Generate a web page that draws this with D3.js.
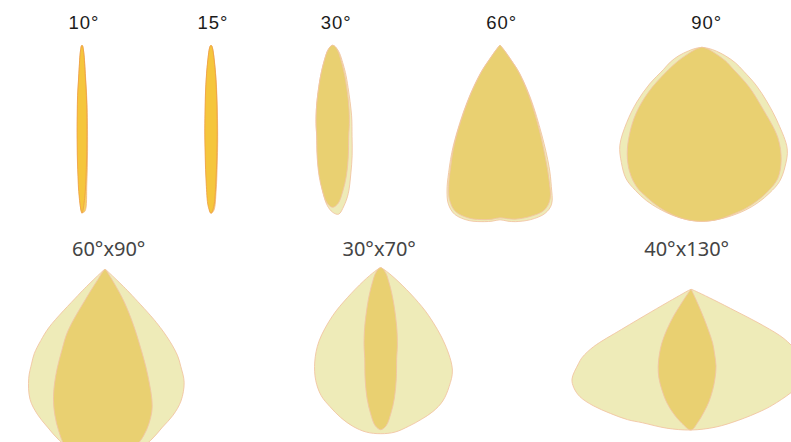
<!DOCTYPE html>
<html>
<head>
<meta charset="utf-8">
<script src="https://cdn.jsdelivr.net/npm/d3@7/dist/d3.min.js"></script>
<style>
html,body{margin:0;padding:0;background:#fff;}
svg{display:block;}
</style>
</head>
<body>
<svg id="chart" width="791" height="442"></svg>
<script>
// ---------------- DATA (relative intensity; angle in degrees from nadir) ----------------
const titles = ["10°", "15°", "30°", "60°", "90°", "60°x90°", "30°x70°", "40°x130°"];

// narrow beams
const angNarrow = [-90,-45,-30,-20,-15,-10,-8,-6,-5,-4,-3,-2,-1,0,1,2,3,4,5,6,8,10,15,20,30,45,90];
const beam10A = [0,0.7,1.7,3.4,5.9,12.6,18.5,31.9,50.4,68.9,94,124,153,168,153,124,94,68.9,50.4,31.9,18.5,12.6,5.9,3.4,1.7,0.7,0];
const beam10B = [0,0.7,1.7,3.4,5.9,12,17,29,46,63,87,116,146,167,166,138,106,78,57,37,21,14,6.5,3.8,1.9,0.8,0];
const beam15A = [0,1.2,2.7,5.9,10,22.7,35,55,69,89,111,138,161,168,161,138,111,89,69,55,35,22.7,10,5.9,2.7,1.2,0];
const beam15B = [0,1.2,2.7,5.6,9.5,21,33,51,64,83,104,131,155,168,165,146,119,96,75,59,38,24.5,10.8,6.2,2.9,1.3,0];

// 30°
const ang30 = [-90,-75,-60,-50,-40,-30,-25,-20,-15,-12,-10,-8,-6,-4,-2,0,2,4,6,8,10,12,15,20,25,30,40,50,60,75,90];
const beam30Dark  = [0,1,3,5,9,16,24,38,62,80,92,112,131,146,158,162,158,146,131,112,92,80,62,38,24,16,9,5,3,1,0];
const beam30Light = [0,1,3,5,9,16,24,38,62,80,92,110,128,146,160,167,169,161,149,130,112,93,73,45,30,20,11,6,3,1,0];

// 60°
const ang60 = [-90,-60,-45,-40,-37,-35,-30,-25,-22,-20,-18,-15,-10,-5,-2.5,0,2.5,5,10,15,18,20,22,25,30,35,37,40,45,60,90];
const beam60Dark  = [0,0.5,2,6,15,32,64,107,132,150,163,172,175.6,175,174,172.5,173.5,174.5,173.8,170.7,162,143.5,121,92.5,57.7,32,17,7,2,0.5,0];
const beam60Light = [0,0.5,2,7,17,34,66,110,137,155,167,175,178,177,176,174.5,176,177,177,174,167,150,131,99,61,34,19,8,2,0.5,0];

// 90°
const ang90 = [-90,-80,-75,-70,-65,-60,-55,-50,-45,-40,-35,-30,-25,-20,-15,-10,-5,0,5,10,15,20,25,30,35,40,45,50,55,60,65,70,75,80,90];
const beam90Dark  = [0,2,5,8,15,28,45,70,93,112.5,130.4,144.4,154.2,160,165.5,170,173,174,173,170,167,162.9,158,151.5,138,118,84.5,61,38,27,15,9,5,2.5,0];
const beam90Light = [0,7,14,25,35,44.6,64,85,106.5,127.8,140.6,151.8,157.8,163,167,170.5,173,174,173,171,168.5,165,160.5,155,145,132.6,108,85,66,48.4,37,25,15,7,0];

// 60°x90°
const ang6090Wide = [-90,-60,-50,-47,-46,-44,-42,-40,-38,-35,-30,-25,-20,-15,-10,-5,0,5,10,15,20,25,30,35,38,40,42,44,46,47,50,60,90];
const beam6090Wide = [0,1,6,25,38,80,96,110,119,133,150,160,168,177,184,188,190,188,184,177,168,161,152,138,123,113,97,74,38,25,6,1,0];
const ang6090Narrow = [-90,-50,-40,-35,-33,-31,-28,-25,-22,-19,-16,-13,-10,-5,0,5,10,13,16,19,22,25,28,31,33,35,40,50,90];
const beam6090Narrow = [0,1,4,12,35,72,92,116,137.5,154,168,180,184,188,190,187,179,171,160,145,114,80,55,34,18,9,3,1,0];

// 30°x70°
const ang3070Wide = [-90,-70,-58,-52,-48,-45,-40,-35,-30,-25,-20,-15,-10,-5,0,5,10,15,20,25,30,35,40,45,48,52,58,70,90];
const beam3070Wide = [0,1,7,22,45,68,96,115,130,141,148,155,161,165,166,165,161,157,153,147,137,125,100,68,46,22,7,1,0];
const ang3070Narrow = ang30;
const beam3070Narrow = [0,1,3,5,9,16,24,38,62,80,92,112,131,146,158,162,158,146,131,112,92,80,62,38,24,16,9,5,3,1,0];

// 40°x130°
const ang40130Wide = [-90,-65,-62,-61,-60.5,-60,-59.5,-58,-56.5,-53,-50,-46,-40,-33,-26,-20,-10,0,10,20,30,35,44,50,55,58,60,61.5,62.5,63.5,64,65,67,75,90];
const beam40130Wide = [0,3,10,25,45,80,113,128,135,149,153,154.5,152,148,145,142,141,140.7,140,139.3,140.5,141.6,143.8,145,140,130,120,110,100,75,50,25,8,1,0];
const ang40130Narrow = [-90,-45,-37,-35,-34,-33,-31,-28.5,-26,-23,-20,-16,-12,-8,-4,0,3,6,9,12,15,18,20,22,23,24,25,26,28,35,90];
const beam40130Narrow = [0,0.5,3,10,20,32,46,61,72,84,94,105,116,125.5,134,140.7,133,123.5,114,103.5,92.5,81,69,57.5,45,32,18,8,2,0.5,0];

// ---------------- LAYOUT ----------------
const layout = [
  {tip:[82,45.3],   label:[84,29],     font:"top"},
  {tip:[211,45.3],  label:[213,29],    font:"top"},
  {tip:[332.7,45.3],label:[336.3,29],  font:"top"},
  {tip:[500,45.3],  label:[501.7,28.5],font:"top"},
  {tip:[702,47.3],  label:[706.7,29],  font:"top"},
  {tip:[105,269.3], label:[108.7,255.7],font:"bottom"},
  {tip:[380.7,267.7],label:[379.2,255.7],font:"bottom"},
  {tip:[691,289.3], label:[686.7,255.7],font:"bottom"}
];

const styles = {
  narrowB: {fill:"#f4d35c", stroke:"#f3b27a", sw:0.8},
  narrowA: {fill:"#f5c63c", stroke:"#ef9e45", sw:0.8},
  light:   {fill:"#eeebb8", stroke:"#f2c5a3", sw:0.9},
  dark:    {fill:"#e9d071", stroke:"#f2c5a3", sw:0.9}
};

const zip = (a, v) => a.map((d, i) => [d, v[i]]);
const curves = [
  [[angNarrow, beam10B, "narrowB"], [angNarrow, beam10A, "narrowA"]],
  [[angNarrow, beam15B, "narrowB"], [angNarrow, beam15A, "narrowA"]],
  [[ang30, beam30Light, "light"], [ang30, beam30Dark, "dark"]],
  [[ang60, beam60Light, "light"], [ang60, beam60Dark, "dark"]],
  [[ang90, beam90Light, "light"], [ang90, beam90Dark, "dark"]],
  [[ang6090Wide, beam6090Wide, "light"], [ang6090Narrow, beam6090Narrow, "dark"]],
  [[ang3070Wide, beam3070Wide, "light"], [ang3070Narrow, beam3070Narrow, "dark"]],
  [[ang40130Wide, beam40130Wide, "light"], [ang40130Narrow, beam40130Narrow, "dark"]]
];

// ---------------- DRAW ----------------
const svg = d3.select("#chart");
const rScale = d3.scaleLinear().domain([0, 200]).range([0, 200]);
const angScale = d3.scaleLinear().domain([-180, 180]).range([-Math.PI, Math.PI]);

const radial = d3.lineRadial()
  .angle(d => Math.PI - angScale(d[0]))
  .radius(d => rScale(d[1]))
  .curve(d3.curveCatmullRom.alpha(0.5));

curves.forEach((set, i) => {
  const L = layout[i];
  const g = svg.append("g").attr("transform", `translate(${L.tip[0]},${L.tip[1]})`);
  set.forEach(([a, v, s]) => {
    const st = styles[s];
    g.append("path")
      .attr("d", radial(zip(a, v)) + "Z")
      .attr("fill", st.fill)
      .attr("stroke", st.stroke)
      .attr("stroke-width", st.sw)
      .attr("stroke-linejoin", "round");
  });
});

titles.forEach((t, i) => {
  const L = layout[i];
  const top = L.font === "top";
  svg.append("text")
    .attr("x", L.label[0])
    .attr("y", L.label[1])
    .attr("text-anchor", "middle")
    .attr("font-family", top ? "'Liberation Sans', Arial, sans-serif" : "'Noto Sans', 'Open Sans', sans-serif")
    .attr("font-size", top ? 18.5 : 20)
    .attr("letter-spacing", top ? 1 : 0)
    .attr("fill", top ? "#1b1b1b" : "#444444")
    .text(t);
});
</script>
</body>
</html>
